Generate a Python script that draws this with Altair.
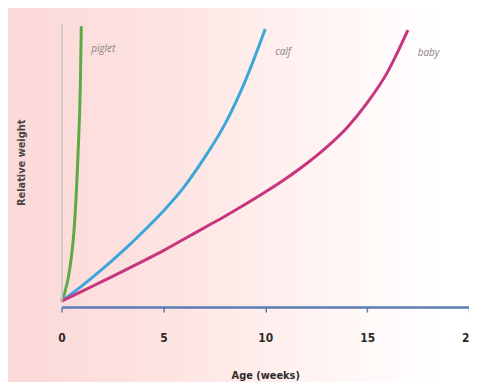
import altair as alt
import pandas as pd

# ---- data ----
piglet_x = [0, 0.16, 0.40, 0.65, 0.81, 0.92, 0.97]
piglet_y = [0, 3.1, 11.4, 29.3, 53.1, 76.9, 99]

calf_x = [0, 1, 2, 3, 4, 5, 6, 7, 8, 9, 10]
calf_y = [0, 5.5, 11.5, 18, 25, 32.5, 41, 51.5, 63.5, 79, 98]

baby_x = [0, 1, 2, 3, 4, 5, 6, 7, 8, 9, 10, 11, 12, 13, 14, 15, 16, 17]
baby_y = [0, 3.5, 7.1, 10.7, 14.4, 18.2, 22.3, 26.4, 30.5, 34.8, 39.3, 44.1, 49.4, 55.4, 62.4, 71.4, 82.5, 97.6]

series_names = ["piglet", "calf", "baby"]
series_colors = ["#5aab46", "#3ba6d9", "#c8357f"]
x_ticks = [0, 5, 10, 15, 20]

rows = []
for name, xs, ys in [("piglet", piglet_x, piglet_y),
                     ("calf", calf_x, calf_y),
                     ("baby", baby_x, baby_y)]:
    for i, (a, b) in enumerate(zip(xs, ys)):
        rows.append({"animal": name, "age": a, "weight": b, "order": i})
df = pd.DataFrame(rows)

# label at end of each curve
ends = df.sort_values("order").groupby("animal").tail(1)

W, H = 411, 280
FONT = "Liberation Sans Narrow, DejaVu Sans Condensed, Open Sans, sans-serif"

xscale = alt.Scale(domain=[0, 20], nice=False, zero=True)
yscale = alt.Scale(domain=[0, 100], nice=False)
color = alt.Color("animal:N", scale=alt.Scale(domain=series_names, range=series_colors), legend=None)

bg = alt.Chart(alt.Data(values=[{}])).mark_rect(
    color=alt.LinearGradient(
        gradient="linear",
        stops=[alt.GradientStop(color="#fbd8d8", offset=0),
               alt.GradientStop(color="#fde4e2", offset=0.35),
               alt.GradientStop(color="#fff4f3", offset=0.65),
               alt.GradientStop(color="#ffffff", offset=0.9)],
        x1=0, x2=1, y1=0, y2=0),
).encode(x=alt.value(-60), x2=alt.value(W + 20), y=alt.value(-20), y2=alt.value(H + 90))

lines = alt.Chart(df).mark_line(strokeWidth=3, interpolate="monotone", clip=False).encode(
    x=alt.X("age:Q", scale=xscale,
            axis=alt.Axis(title="Age (weeks)", values=x_ticks, format="d",
                          domainColor="#5b7bb3", domainWidth=2.5,
                          tickColor="#5b7bb3", tickWidth=1.5, tickSize=5,
                          offset=6, grid=False, zindex=1, labelFlush=False,
                          labelFont=FONT, labelFontSize=12, labelFontWeight="bold",
                          labelColor="#2b2b2b", labelPadding=21,
                          titleFont=FONT, titleFontSize=11, titleFontWeight="bold",
                          titleColor="#2b2b2b", titlePadding=26)),
    y=alt.Y("weight:Q", scale=yscale,
            axis=alt.Axis(title="Relative weight", labels=False, ticks=False, grid=False,
                          domainColor="#cfc6c6", domainWidth=1.5, zindex=1,
                          titleFont=FONT, titleFontSize=11, titleFontWeight="bold",
                          titleColor="#4a4444", titlePadding=35)),
    color=color,
    order="order:Q",
)

labels = alt.Chart(ends).mark_text(
    align="left", baseline="middle", dx=10, dy=23, fontStyle="italic",
    fontSize=10, font="Open Sans, sans-serif", color="#8a8585",
).encode(x=alt.X("age:Q", scale=xscale), y=alt.Y("weight:Q", scale=yscale), text="animal:N")

chart = alt.layer(bg, lines, labels).properties(
    width=W, height=H,
    autosize=alt.AutoSizeParams(type="none"),
    padding={"left": 54, "top": 14, "right": 0, "bottom": 90},
).configure_view(strokeWidth=0)

chart.save("out.html", embed_options={"renderer": "svg", "actions": False})
